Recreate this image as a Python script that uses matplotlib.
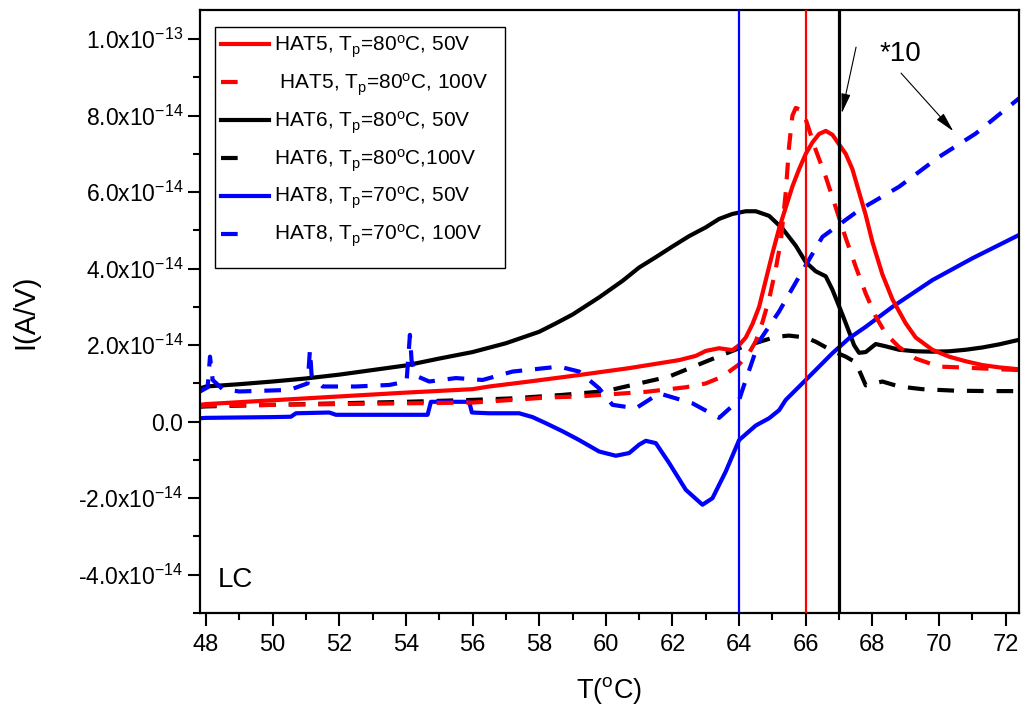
import matplotlib
matplotlib.use("Agg")
import matplotlib.pyplot as plt
from matplotlib.lines import Line2D
from matplotlib.patches import Rectangle
import numpy as np

plt.rcParams['font.family'] = ['Liberation Sans', 'DejaVu Sans']
plt.rcParams['mathtext.fontset'] = 'custom'
plt.rcParams['mathtext.rm'] = 'Liberation Sans'
plt.rcParams['mathtext.it'] = 'Liberation Sans:italic'
plt.rcParams['mathtext.bf'] = 'Liberation Sans:bold'

SCALE = 1e-14  # values below are in units of 1e-14 A/V

# HAT6, Tp=80C, 50V (black solid)
hat6_50_T = [47.82, 48, 49, 50, 51, 52, 53, 54, 55, 56, 57, 58, 58.5, 59, 59.8, 60.5, 61, 61.5, 62,
             62.5, 63, 63.4, 63.8, 64.2, 64.5, 64.9, 65.3, 65.7, 66.0, 66.3, 66.6, 66.8, 67.1, 67.3,
             67.45, 67.6, 67.8, 68.1, 68.4, 68.8, 69.3, 69.8, 70.3, 70.8, 71.3, 71.8, 72.4]
hat6_50_I = [0.87, 0.92, 0.98, 1.05, 1.13, 1.23, 1.35, 1.47, 1.65, 1.82, 2.05, 2.35, 2.57, 2.8, 3.25,
             3.68, 4.03, 4.3, 4.58, 4.85, 5.08, 5.3, 5.43, 5.5, 5.5, 5.38, 5.05, 4.6, 4.17, 3.93, 3.8,
             3.45, 2.8, 2.35, 2.0, 1.8, 1.82, 2.03, 1.97, 1.88, 1.84, 1.83, 1.84, 1.88, 1.94, 2.02, 2.14]

# HAT5, Tp=80C, 50V (red solid)
hat5_50_T = [47.82, 48, 50, 52, 54, 56, 56.5, 57.7, 59.2, 60.7, 62.2, 62.7, 63.0, 63.4, 63.8, 64.0,
             64.2, 64.4, 64.6, 64.8, 65.0, 65.2, 65.4, 65.6, 65.8, 66.0, 66.2, 66.4, 66.6, 66.8, 67.0,
             67.2, 67.4, 67.6, 67.8, 68.0, 68.3, 68.6, 69.0, 69.3, 69.8, 70.3, 70.8, 71.3, 71.8, 72.4]
hat5_50_I = [0.44, 0.46, 0.56, 0.66, 0.76, 0.85, 0.92, 1.05, 1.22, 1.4, 1.61, 1.72, 1.85, 1.92, 1.87,
             2.0, 2.2, 2.55, 3.0, 3.7, 4.4, 5.05, 5.6, 6.15, 6.6, 7.0, 7.3, 7.52, 7.6, 7.5, 7.25, 7.0,
             6.6, 6.0, 5.4, 4.7, 3.85, 3.2, 2.57, 2.2, 1.88, 1.7, 1.58, 1.48, 1.42, 1.37]

# HAT5, Tp=80C, 100V (red dashed)
hat5_100_T = [47.82, 48, 50, 52, 54, 56, 57.2, 58.2, 59.2, 60.2, 61.2, 62.4, 63.0, 63.5, 64.0, 64.3,
              64.5, 64.7, 64.9, 65.1, 65.25, 65.4, 65.5, 65.6, 65.7, 65.85, 66.0, 66.3, 66.6, 66.9,
              67.2, 67.5, 67.8, 68.1, 68.4, 68.8, 69.3, 70.0, 70.6, 71.1, 71.8, 72.4]
hat5_100_I = [0.41, 0.42, 0.44, 0.46, 0.48, 0.5, 0.57, 0.63, 0.66, 0.72, 0.78, 0.9, 1.0, 1.18, 1.5,
              1.8, 2.1, 2.6, 3.2, 4.0, 4.7, 6.0, 7.2, 8.0, 8.2, 8.15, 7.9, 7.1, 6.4, 5.6, 4.8, 4.05,
              3.35, 2.75, 2.3, 1.95, 1.65, 1.44, 1.42, 1.4, 1.37, 1.35]

# HAT6, Tp=80C, 100V (black dashed)
hat6_100_T = [47.82, 48, 50, 52, 54, 56, 57.2, 58.7, 60.0, 60.7, 61.9, 63.0, 64.0, 65.1, 65.5, 66.0,
              66.3, 66.8, 67.2, 67.5, 67.8, 68.3, 68.8, 69.5, 70.5, 71.5, 72.4]
hat6_100_I = [0.39, 0.4, 0.44, 0.48, 0.52, 0.57, 0.61, 0.7, 0.8, 0.94, 1.18, 1.57, 1.92, 2.22, 2.25,
              2.2, 2.09, 1.85, 1.7, 1.55, 0.95, 1.05, 0.92, 0.85, 0.81, 0.8, 0.8]

# HAT8, Tp=70C, 50V (blue solid)
hat8_50_T = [47.82, 48, 49, 50, 50.55, 50.7, 51.7, 51.9, 53, 54.65, 54.75, 55.9, 55.98, 56.5, 57.4,
             57.8, 58.2, 58.7, 59.2, 59.8, 60.3, 60.7, 61.0, 61.2, 61.5, 61.9, 62.4, 62.9, 63.2, 63.6,
             64.0, 64.5, 64.9, 65.2, 65.4, 66.0, 66.8, 67.3, 67.8, 68.6, 69.8, 71.0, 72.4]
hat8_50_I = [0.09, 0.1, 0.11, 0.12, 0.13, 0.22, 0.24, 0.18, 0.18, 0.18, 0.52, 0.52, 0.24, 0.22, 0.22,
             0.12, -0.04, -0.25, -0.48, -0.78, -0.89, -0.82, -0.6, -0.5, -0.56, -1.08, -1.78, -2.17,
             -2.0, -1.3, -0.48, -0.1, 0.09, 0.3, 0.57, 1.09, 1.79, 2.18, 2.48, 3.0, 3.7, 4.27, 4.88]

# HAT8, Tp=70C, 100V (blue dashed)
hat8_100_T = [47.82, 48.05, 48.12, 48.2, 48.5, 49.0, 50.5, 51.05, 51.12, 51.17, 51.5, 52.5, 53.5,
              54.02, 54.12, 54.17, 54.3, 54.7, 55.5, 56.3, 57.2, 58.6, 59.2, 59.8, 60.2, 60.9, 61.6,
              62.6, 63.4, 64.0, 64.2, 64.6, 65.2, 65.8, 66.5, 67.6, 68.8, 70.0, 71.1, 72.4]
hat8_100_I = [0.79, 0.9, 1.7, 1.09, 0.85, 0.79, 0.83, 1.0, 1.88, 1.2, 0.92, 0.92, 0.96, 1.05, 2.27,
              1.6, 1.2, 1.05, 1.14, 1.09, 1.31, 1.44, 1.31, 0.87, 0.44, 0.35, 0.74, 0.48, 0.1, 0.57,
              1.09, 2.1, 2.88, 3.79, 4.83, 5.53, 6.14, 6.92, 7.53, 8.45]

labels = ["HAT5, T$_\\mathregular{p}$=80$^\\mathregular{o}$C, 50V",
          " HAT5, T$_\\mathregular{p}$=80$^\\mathregular{o}$C, 100V",
          "HAT6, T$_\\mathregular{p}$=80$^\\mathregular{o}$C, 50V",
          "HAT6, T$_\\mathregular{p}$=80$^\\mathregular{o}$C,100V",
          "HAT8, T$_\\mathregular{p}$=70$^\\mathregular{o}$C, 50V",
          "HAT8, T$_\\mathregular{p}$=70$^\\mathregular{o}$C, 100V"]

vlines_T = [64, 66, 67]
vlines_colors = ['#0000ff', '#ff0000', '#000000']

x_ticks = [48, 50, 52, 54, 56, 58, 60, 62, 64, 66, 68, 70, 72]
y_ticks = [-4, -2, 0, 2, 4, 6, 8, 10]
y_ticklabels = ["-4.0x10$^{-14}$", "-2.0x10$^{-14}$", "0.0", "2.0x10$^{-14}$", "4.0x10$^{-14}$",
                "6.0x10$^{-14}$", "8.0x10$^{-14}$", "1.0x10$^{-13}$"]

fig = plt.figure(figsize=(10.22, 7.15), dpi=100)
ax = fig.add_axes([200/1022, 1-613/715, 819/1022, 603/715])

LW = 3.0
DASH = (4.0, 3.1)
RED, BLACK, BLUE = '#ff0000', '#000000', '#0000ff'

ax.plot(hat6_50_T, np.array(hat6_50_I)*SCALE, color=BLACK, lw=LW)
ax.plot(hat6_100_T, np.array(hat6_100_I)*SCALE, color=BLACK, lw=LW, dashes=DASH)
ax.plot(hat8_50_T, np.array(hat8_50_I)*SCALE, color=BLUE, lw=LW)
ax.plot(hat8_100_T, np.array(hat8_100_I)*SCALE, color=BLUE, lw=LW, dashes=DASH)
ax.plot(hat5_100_T, np.array(hat5_100_I)*SCALE, color=RED, lw=LW, dashes=DASH)
ax.plot(hat5_50_T, np.array(hat5_50_I)*SCALE, color=RED, lw=LW)

for t, c in zip(vlines_T, vlines_colors):
    ax.axvline(t, color=c, lw=2.3 if c == BLACK else 1.6, zorder=5)

ax.set_xlim(47.82, 72.4)
ax.set_ylim(-5.0e-14, 1.076e-13)

ax.set_xticks(x_ticks)
ax.set_xticklabels([str(v) for v in x_ticks], fontsize=17)
ax.set_xticks(np.arange(49, 73, 2), minor=True)
ax.set_yticks(np.array(y_ticks)*SCALE)
ax.set_yticklabels(y_ticklabels, fontsize=16.5)
ax.set_yticks(np.arange(-5, 11, 2)*SCALE, minor=True)
ax.tick_params(axis='x', which='major', direction='out', length=9, width=1.5, pad=6)
ax.tick_params(axis='y', which='major', direction='out', length=9, width=1.5, pad=3)
ax.tick_params(which='minor', direction='out', length=5, width=1.5)
for s in ax.spines.values():
    s.set_linewidth(1.6)

ax.set_xlabel("T($^\\mathregular{o}$C)", fontsize=19.5, labelpad=14)
ax.set_ylabel("I(A/V)", fontsize=21, labelpad=28)

handles = [
    Line2D([], [], color=RED, lw=LW),
    Line2D([], [], color=RED, lw=LW, dashes=(4.0, 30)),
    Line2D([], [], color=BLACK, lw=LW),
    Line2D([], [], color=BLACK, lw=LW, dashes=(4.0, 30)),
    Line2D([], [], color=BLUE, lw=LW),
    Line2D([], [], color=BLUE, lw=LW, dashes=(4.0, 30)),
]
leg = ax.legend(handles, labels, loc='upper left', bbox_to_anchor=(0.018, 0.972),
                borderaxespad=0, fontsize=15, frameon=False, handlelength=2.3,
                handletextpad=0.25, labelspacing=0.55, borderpad=0.3)
leg.set_zorder(10)
frame = Rectangle((0.0183, 0.5721), 0.3541, 0.3997, transform=ax.transAxes,
                  facecolor='white', edgecolor='black', lw=1.0, zorder=9)
ax.add_patch(frame)

ax.text(48.36, -4.13e-14, "LC", fontsize=20, va='center', ha='left')
ax.text(68.83, 9.6e-14, "*10", fontsize=20, va='center', ha='center')
arrow_style = dict(arrowstyle='-|>,head_length=0.6,head_width=0.14', color='black', lw=0.8,
                   mutation_scale=20, shrinkA=0, shrinkB=0)
ax.annotate("", xy=(67.08, 8.06e-14), xytext=(67.51, 9.79e-14), arrowprops=arrow_style)
ax.annotate("", xy=(70.43, 7.59e-14), xytext=(68.86, 9.11e-14), arrowprops=arrow_style)

fig.savefig("out.png", dpi=100)
